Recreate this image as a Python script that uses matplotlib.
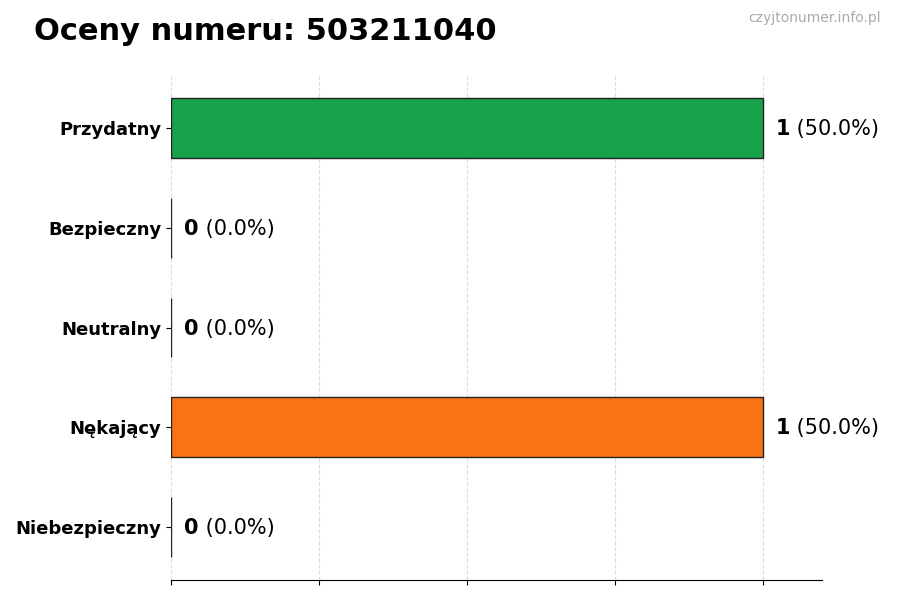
import matplotlib
matplotlib.use('Agg')
import matplotlib.pyplot as plt

categories = ['Przydatny', 'Bezpieczny', 'Neutralny', 'Nękający', 'Niebezpieczny']
counts = [1, 0, 0, 1, 0]
colors = ['#16a34a', '#3b82f6', '#9ca3af', '#f97316', '#dc2626']
total = sum(counts)

fig = plt.figure(figsize=(9, 6), dpi=100)
ax = fig.add_axes([0.19, 0.0333, 0.723, 0.8417])

ypos = list(range(len(categories)))[::-1]
ax.barh(ypos, counts, height=0.6, color=colors, edgecolor='#222222', linewidth=1, zorder=3)

ax.set_yticks(ypos)
ax.set_yticklabels(categories, fontsize=13, fontweight='bold')
ax.set_xticks([0, 0.25, 0.5, 0.75, 1.0])
ax.set_xticklabels([])
ax.set_xlim(0, 1.1)
ax.grid(axis='x', linestyle='--', color='#dddddd', linewidth=0.8, zorder=0)

ax.spines['right'].set_visible(False)
ax.spines['top'].set_visible(False)
ax.spines['left'].set_visible(False)

for y, c in zip(ypos, counts):
    pct = c / total * 100
    t = ax.text(c + 0.022, y - 0.01, str(c), fontsize=15, fontweight='bold', va='center', ha='left')
    ax.annotate(' (%.1f%%)' % pct, xy=(1, 0.5), xycoords=t, fontsize=15, va='center', ha='left')

fig.text(0.038, 0.947, 'Oceny numeru: 503211040', fontsize=22, fontweight='bold', va='center', ha='left')
fig.text(0.979, 0.970, 'czyjtonumer.info.pl', fontsize=10, color='#aaaaaa', va='center', ha='right')

fig.savefig('out.png', dpi=100)
